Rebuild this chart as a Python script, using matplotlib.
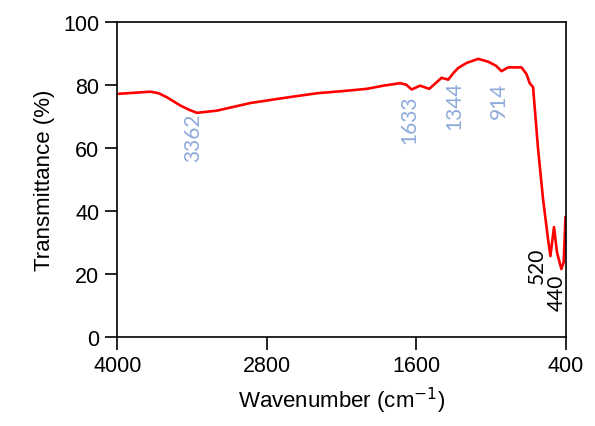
import numpy as np
import matplotlib.pyplot as plt

# FTIR spectrum
wavenumber = [4000, 3733, 3667, 3600, 3493, 3420, 3359, 3199, 2932, 2665, 2398,
              2158, 1998, 1864, 1730, 1680, 1637, 1570, 1496, 1397, 1344, 1300,
              1264, 1197, 1103, 1023, 960, 916, 863, 756, 716, 690, 663, 623,
              583, 543, 524, 495, 471, 436, 417, 403]
transmittance = [77.1, 77.8, 77.3, 76.0, 73.4, 72.0, 71.1, 71.8, 74.2, 75.8, 77.3,
                 78.1, 78.7, 79.7, 80.5, 80.0, 78.5, 79.7, 78.7, 82.2, 81.6, 83.8,
                 85.3, 86.9, 88.2, 87.3, 86.0, 84.3, 85.5, 85.5, 83.4, 80.5, 79.2, 59.7,
                 43.8, 31.1, 25.7, 34.9, 26.9, 21.6, 23.8, 38.0]

# peak labels: (text, wavenumber, transmittance of text centre, colour)
peak_text = ["3362", "1633", "1344", "914", "520", "440"]
peak_x = [3389, 1658, 1297, 936, 632, 472]
peak_y = [63.5, 69.2, 73.7, 75.3, 22.9, 14.3]
peak_color = ["#8eaadb", "#8eaadb", "#8eaadb", "#8eaadb", "black", "black"]

fig = plt.figure(figsize=(5.95, 4.27), dpi=100)
ax = fig.add_axes([0.197, 0.208, 0.754, 0.739])

ax.plot(wavenumber, transmittance, color="red", lw=1.9)

for t, x, y, c in zip(peak_text, peak_x, peak_y, peak_color):
    ax.text(x, y, t, rotation=90, color=c, fontsize=15, family="Lato",
            ha="center", va="center")

ax.set_xlim(4000, 400)
ax.set_ylim(0, 100)
ax.set_xticks([4000, 2800, 1600, 400])
ax.set_yticks(np.arange(0, 101, 20))
ax.tick_params(direction="out", length=9, width=1.2, labelsize=15.5, pad=4)
for s in ax.spines.values():
    s.set_linewidth(1.2)
ax.set_xlabel("Wavenumber (cm$^{-1}$)", fontsize=16, family="Liberation Sans", labelpad=6)
ax.set_ylabel("Transmittance (%)", fontsize=16, family="Liberation Sans", labelpad=6)
for lab in ax.get_xticklabels() + ax.get_yticklabels():
    lab.set_family("Liberation Sans")

fig.savefig("out.png", dpi=100)
